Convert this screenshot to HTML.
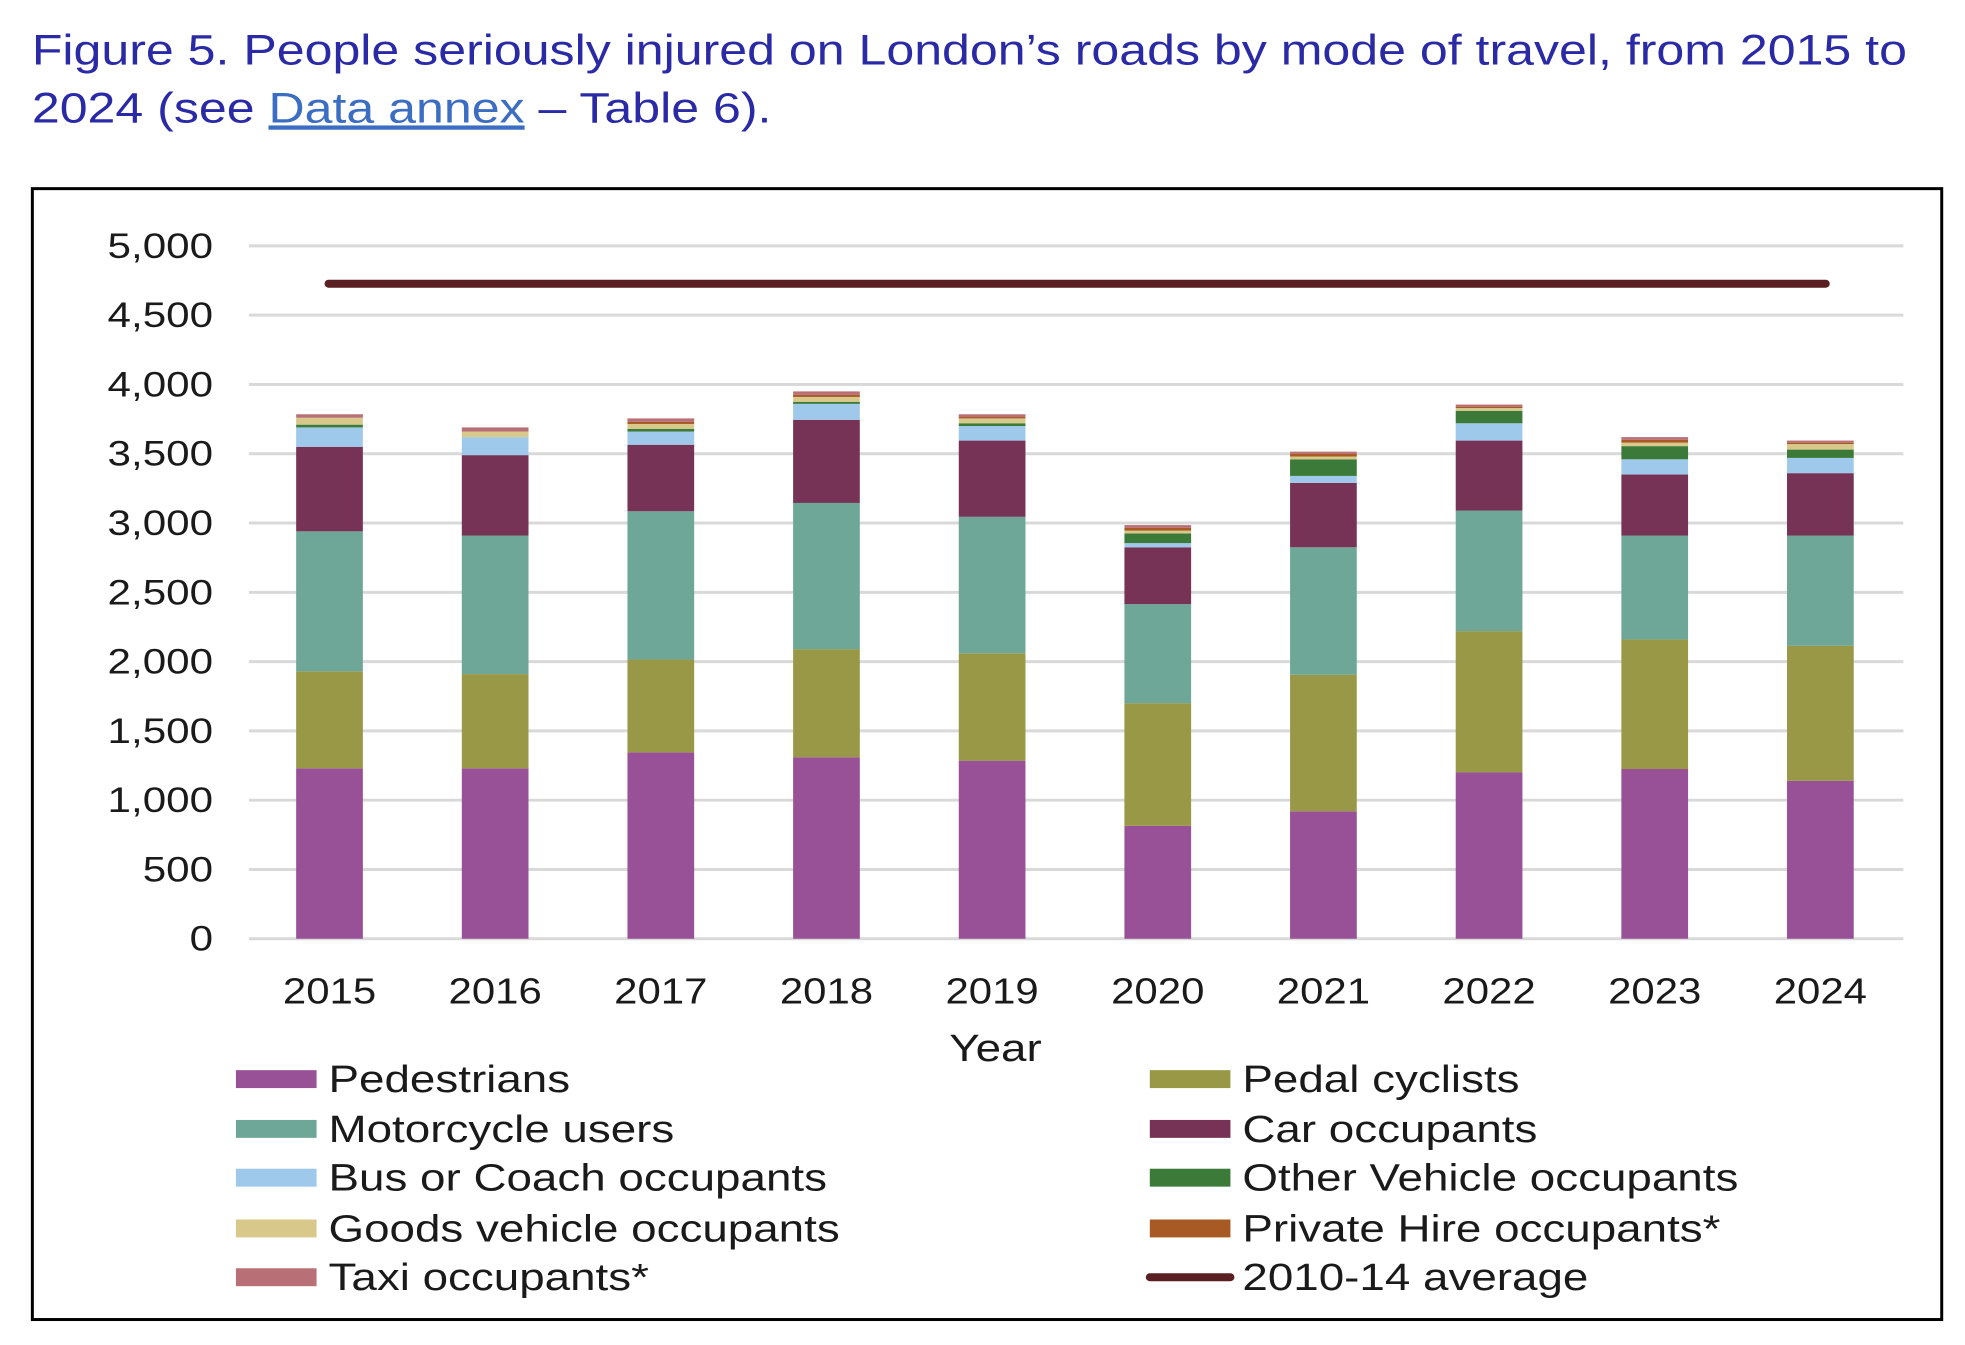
<!DOCTYPE html>
<html><head><meta charset="utf-8"><style>
body{margin:0;background:#fff;width:1965px;height:1340px;overflow:hidden}
svg{font-family:"Liberation Sans",Arial,sans-serif}
</style></head><body>
<svg id="s" width="1965" height="1340" xmlns="http://www.w3.org/2000/svg">
<g transform="scale(0.9955)">
<text class="st" data-f="1.17" x="32" y="65" font-size="43" fill="#2a2aa6">Figure 5. People seriously injured on London’s roads by mode of travel, from 2015 to</text>
<text class="st" data-f="1.17" x="32" y="123" font-size="43" fill="#2a2aa6">2024 (see <tspan fill="#3b6dc2" text-decoration="underline">Data annex</tspan> – Table 6).</text>
<rect x="32.5" y="189.5" width="1918" height="1136" fill="none" stroke="#000" stroke-width="3"/>
<g id="grid" stroke="#d9d9d9" stroke-width="3"></g>
<g id="bars"></g>
<line x1="330" y1="285" x2="1834" y2="285" stroke="#5a1f22" stroke-width="8" stroke-linecap="round"/>
<g id="yl" font-size="35" fill="#1a1a1a" text-anchor="end"></g>
<g id="xl" font-size="36" fill="#1a1a1a" text-anchor="middle"></g>
<text class="st" x="1000" y="1066" font-size="38" text-anchor="middle" fill="#1a1a1a">Year</text>
<g font-size="38" fill="#1a1a1a">
<rect x="237" y="1075" width="81" height="18" fill="#985196"/><text class="st" x="330" y="1097">Pedestrians</text>
<rect x="1155" y="1075" width="81" height="18" fill="#989847"/><text class="st" x="1248" y="1097">Pedal cyclists</text>
<rect x="237" y="1125" width="81" height="18" fill="#6ea797"/><text class="st" x="330" y="1147">Motorcycle users</text>
<rect x="1155" y="1125" width="81" height="18" fill="#773355"/><text class="st" x="1248" y="1147">Car occupants</text>
<rect x="237" y="1174" width="81" height="18" fill="#9fc9ea"/><text class="st" x="330" y="1196">Bus or Coach occupants</text>
<rect x="1155" y="1174" width="81" height="18" fill="#3c7a3a"/><text class="st" x="1248" y="1196">Other Vehicle occupants</text>
<rect x="237" y="1225" width="81" height="18" fill="#d8c98a"/><text class="st" x="330" y="1247">Goods vehicle occupants</text>
<rect x="1155" y="1225" width="81" height="18" fill="#a85a24"/><text class="st" x="1248" y="1247">Private Hire occupants*</text>
<rect x="237" y="1274" width="81" height="18" fill="#b86f75"/><text class="st" x="330" y="1296">Taxi occupants*</text>
<line x1="1155" y1="1283" x2="1236" y2="1283" stroke="#5a1f22" stroke-width="8" stroke-linecap="round"/><text class="st" x="1248" y="1296">2010-14 average</text>
</g>
</g>
</svg>
<script>
var NS="http://www.w3.org/2000/svg";
function Y(v){return 943-v*0.1392;}
function el(p,t,a){var e=document.createElementNS(NS,t);for(var k in a)e.setAttribute(k,a[k]);p.appendChild(e);return e;}
var g=document.getElementById('grid'),yl=document.getElementById('yl'),xl=document.getElementById('xl'),b=document.getElementById('bars');
for(var v=0;v<=5000;v+=500){el(g,'line',{x1:250,x2:1912,y1:Y(v),y2:Y(v)});var t=el(yl,'text',{x:214,y:Y(v)+12,'class':'st'});t.textContent=v.toLocaleString('en-US');}
var cols=["#985196","#989847","#6ea797","#773355","#9fc9ea","#3c7a3a","#d8c98a","#a85a24","#b86f75"];
var d=[[1230,1930,2940,3550,3690,3710,3760,3760,3785],[1230,1910,2910,3490,3620,3620,3660,3660,3690],[1345,2015,3085,3565,3660,3680,3715,3730,3755],[1310,2090,3145,3745,3860,3875,3910,3925,3950],[1285,2060,3045,3595,3700,3720,3755,3765,3785],[815,1700,2415,2825,2855,2925,2945,2965,2985],[920,1905,2825,3290,3340,3460,3480,3500,3515],[1200,2220,3090,3595,3720,3810,3830,3840,3855],[1225,2160,2910,3350,3460,3555,3580,3600,3620],[1140,2115,2910,3360,3470,3530,3570,3580,3595]];
for(var i=0;i<10;i++){var cx=331+i*166.4,prev=0;
for(var j=0;j<9;j++){var c=d[i][j];if(c>prev)el(b,'rect',{x:cx-33.5,width:67,y:Y(c),height:Y(prev)-Y(c),fill:cols[j]});prev=c;}
var t=el(xl,'text',{x:cx,y:1008,'class':'st','data-f':'1.17'});t.textContent=2015+i;}
document.querySelectorAll('.st').forEach(function(e){var f=parseFloat(e.getAttribute('data-f')||'1.21');var L=e.getComputedTextLength();e.setAttribute('textLength',L*f);e.setAttribute('lengthAdjust','spacingAndGlyphs');});
</script>
</body></html>
